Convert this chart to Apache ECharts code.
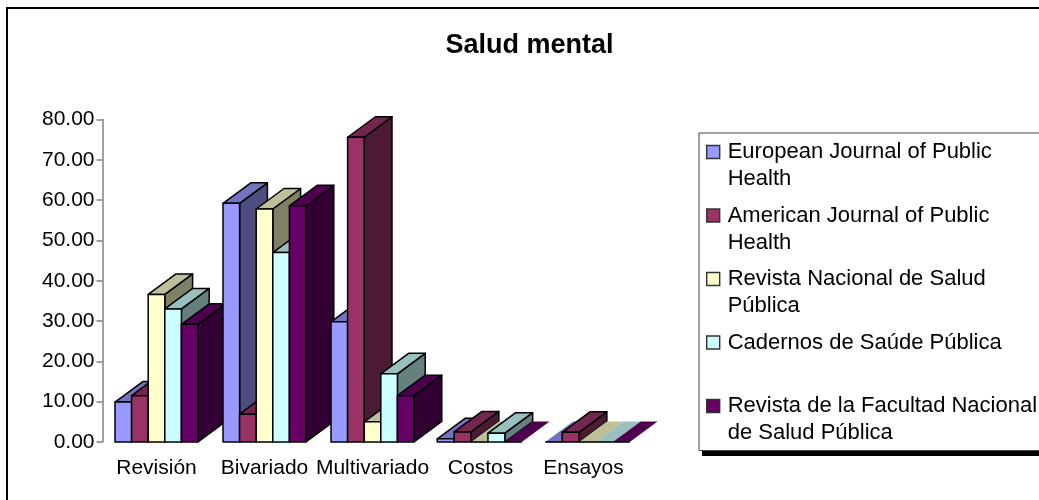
<!DOCTYPE html>
<html>
<head>
<meta charset="utf-8">
<style>html,body{margin:0;padding:0;background:#fff}#c{width:1039px;height:500px}</style>
<script src="https://cdn.jsdelivr.net/npm/echarts@6/dist/echarts.min.js"></script>
</head>
<body>
<div id="c"></div>
<script>
const categories = ['Revisión', 'Bivariado', 'Multivariado', 'Costos', 'Ensayos'];
const seriesNames = [
  'European Journal of Public Health',
  'American Journal of Public Health',
  'Revista Nacional de Salud Pública',
  'Cadernos de Saúde Pública',
  'Revista de la Facultad Nacional de Salud Pública'
];
const legendLines = [
  ['European Journal of Public', 'Health'],
  ['American Journal of Public', 'Health'],
  ['Revista Nacional de Salud', 'Pública'],
  ['Cadernos de Saúde Pública', '\u00a0'],
  ['Revista de la Facultad Nacional', 'de Salud Pública']
];
const european = [9.9, 59.2, 29.8, 0.8, 0];
const american = [11.5, 6.9, 75.6, 2.5, 2.4];
const nacional = [36.6, 57.8, 5, 0, 0];
const cadernos = [33, 47, 16.9, 2.2, 0];
const facultad = [29.2, 58.6, 11.5, 0, 0];
const seriesValues = [european, american, nacional, cadernos, facultad];
const frontColors = ['#9999FF', '#993366', '#FFFFCC', '#CCFFFF', '#660066'];
const topColors = ['#7373BF', '#732650', '#BFBF99', '#99BFBF', '#4D004D'];
const sideColors = ['#4D4D80', '#4D1A33', '#808066', '#668080', '#330033'];
const yTicks = [0, 80, 10];

const DX = 27.8, DY = 20.5;

function renderBar(si) {
  return function (params, api) {
    const ci = api.value(0), v = api.value(1);
    const base = api.coord([ci, 0]);
    const top = api.coord([ci, v]);
    const w = ci >= 3 ? 16.9 : 16.6;
    const x0 = base[0] - w * 2.5 + w * si - (ci >= 3 ? 1 : 0);
    const x1 = x0 + w;
    const y0 = base[1], y1 = top[1];
    const z2 = ci * 10 + si;
    const stroke = { stroke: '#000', lineWidth: 1.5, lineJoin: 'round' };
    const poly = (points, fill, st, z) => ({
      type: 'polygon', z2: z, shape: { points },
      style: Object.assign({ fill }, st)
    });
    if (v === 0) {
      return { type: 'group', children: [
        poly([[x0, y0], [x1, y0], [x1 + DX, y0 - DY], [x0 + DX, y0 - DY]], topColors[si], { stroke: null }, z2),
        { type: 'polyline', z2: z2 + 5, shape: { points: [[x0, y0], [x1, y0]] }, style: { stroke: '#000', lineWidth: 1.6, fill: null } }
      ] };
    }
    return { type: 'group', children: [
      poly([[x1, y0], [x1 + DX, y0 - DY], [x1 + DX, y1 - DY], [x1, y1]], sideColors[si], stroke, z2),
      poly([[x0, y1], [x1, y1], [x1 + DX, y1 - DY], [x0 + DX, y1 - DY]], topColors[si], stroke, z2),
      poly([[x0, y0], [x1, y0], [x1, y1], [x0, y1]], frontColors[si], stroke, z2)
    ] };
  };
}

const chart = echarts.init(document.getElementById('c'), null, { renderer: 'canvas' });
chart.setOption({
  animation: false,
  backgroundColor: '#fff',
  textStyle: { fontFamily: 'Liberation Sans' },
  title: {
    text: 'Salud mental', left: 524.5, top: 27, textAlign: 'center',
    textStyle: { fontFamily: 'Liberation Sans', fontSize: 27, fontWeight: 'bold', color: '#000' }
  },
  grid: { left: 102.5, top: 119.5, width: 540, height: 322.5, containLabel: false },
  xAxis: {
    type: 'category',
    data: categories.map(c => c === 'Ensayos' ? { value: c, textStyle: { padding: [0, 10, 0, 0] } } : c),
    axisLine: { show: false }, axisTick: { show: false },
    axisLabel: { color: '#000', fontSize: 21, margin: 16, interval: 0, fontFamily: 'Liberation Sans' }
  },
  yAxis: {
    type: 'value', min: yTicks[0], max: yTicks[1], interval: yTicks[2],
    splitLine: { show: false },
    axisLine: { show: true, lineStyle: { color: '#808080', width: 1.5 } },
    axisTick: { show: true, length: 6, lineStyle: { color: '#808080', width: 1.5 } },
    axisLabel: { color: '#000', fontSize: 21, margin: 8, padding: [4, 0, 0, 0], fontFamily: 'Liberation Sans', formatter: v => v.toFixed(2) }
  },
  legend: {
    orient: 'vertical', left: 699, top: 133, data: seriesNames,
    icon: 'path://M0,0H10V10H0Z', itemWidth: 19, itemHeight: 13, itemGap: -17.5,
    padding: [-21.5, 20, 4, 7],
    backgroundColor: '#fff', borderColor: '#444', borderWidth: 1,
    itemStyle: { borderColor: '#333', borderWidth: 1.4 },
    textStyle: { color: '#000', fontSize: 22, lineHeight: 27, fontFamily: 'Liberation Sans' },
    formatter: name => {
      const lines = legendLines[seriesNames.indexOf(name)];
      return '\u00a0\n' + lines[0] + '\n' + lines[1];
    }
  },
  graphic: [{
    type: 'rect', z: -1, silent: true,
    shape: { x: 7, y: 8, width: 1100, height: 600 },
    style: { fill: 'none', stroke: '#000', lineWidth: 2 }
  }, {
    type: 'rect', silent: true,
    shape: { x: 702, y: 450, width: 340, height: 6 },
    style: { fill: '#000' }
  }],
  series: seriesValues.map((vals, si) => ({
    type: 'custom', name: seriesNames[si],
    coordinateSystem: 'cartesian2d',
    itemStyle: { color: frontColors[si] },
    encode: { x: 0, y: 1 },
    data: vals.map((v, ci) => [ci, v]),
    renderItem: renderBar(si)
  }))
});
</script>
</body>
</html>
